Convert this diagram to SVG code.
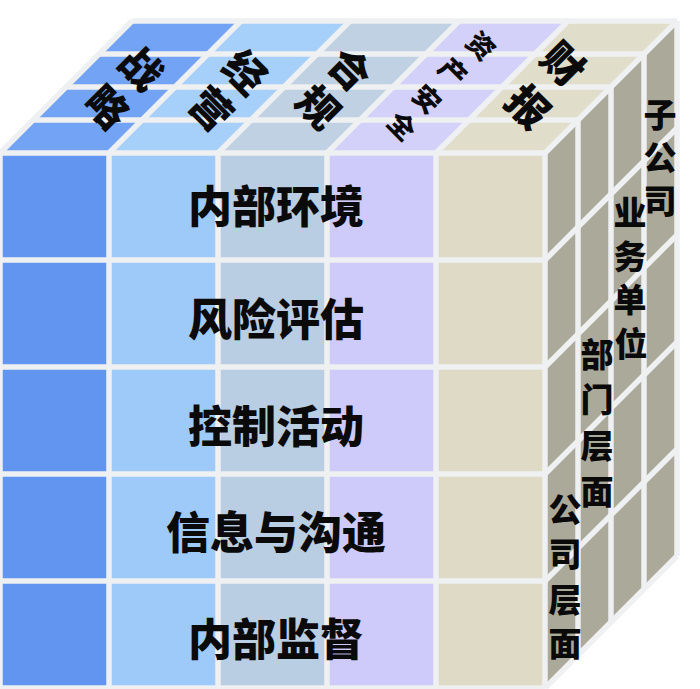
<svg xmlns="http://www.w3.org/2000/svg" width="700" height="689" viewBox="0 0 700 689">
<style>
.ln{stroke:#eef0f1;stroke-width:5.5;fill:none;stroke-linecap:butt}
.t{font-family:"Noto Sans CJK SC","Noto Sans",sans-serif;font-weight:900;fill:#0a0a0a;text-anchor:middle;dominant-baseline:central}
.f{font-size:44px}
.r{font-size:33px}
.tp{font-size:41px}
.ts{font-size:27px}
</style>
<rect width="700" height="689" fill="#ffffff"/>
<g id="front-face">
<rect x="0" y="153" width="109" height="535" fill="#6195f0"/>
<rect x="109" y="153" width="109" height="535" fill="#9ecafa"/>
<rect x="218" y="153" width="109" height="535" fill="#b9cde3"/>
<rect x="327" y="153" width="109" height="535" fill="#cecbfa"/>
<rect x="436" y="153" width="109" height="535" fill="#dedac6"/>
</g>
<g id="top-face">
<polygon points="0,153 109,153 241,21 132,21" fill="#72a3f5"/>
<polygon points="109,153 218,153 350,21 241,21" fill="#a6cffa"/>
<polygon points="218,153 327,153 459,21 350,21" fill="#bfd1e3"/>
<polygon points="327,153 436,153 568,21 459,21" fill="#d3d1fa"/>
<polygon points="436,153 545,153 677,21 568,21" fill="#e0ddcb"/>
</g>
<g id="right-face">
<polygon points="545,153 677,21 677,556 545,688" fill="#aba99a"/>
</g>
<g id="grid-lines">
<path class="ln" d="M0,153V688M109,153V688M218,153V688M327,153V688M436,153V688M545,153V688"/>
<path class="ln" d="M0,153H545M0,260H545M0,367H545M0,474H545M0,581H545M0,688H545"/>
<path class="ln" d="M0,153L132,21M109,153L241,21M218,153L350,21M327,153L459,21M436,153L568,21M545,153L677,21"/>
<path class="ln" d="M33,120H578M66,87H611M99,54H644M132,21H677"/>
<path class="ln" d="M578,120V655M611,87V622M644,54V589M677,21V556"/>
<path class="ln" d="M545,260L677,128M545,367L677,235M545,474L677,342M545,581L677,449M545,688L677,556"/>
</g>
<g id="front-labels">
<text class="t f" x="276" y="204">内部环境</text>
<text class="t f" x="276" y="317">风险评估</text>
<text class="t f" x="276" y="424">控制活动</text>
<text class="t f" x="276" y="530">信息与沟通</text>
<text class="t f" x="276" y="637">内部监督</text>
</g>
<g id="top-labels">
<text class="t tp" x="143" y="66" transform="rotate(45 143 66)">战</text>
<text class="t tp" x="109" y="105" transform="rotate(45 109 105)">略</text>
<text class="t tp" x="247" y="70" transform="rotate(45 247 70)">经</text>
<text class="t tp" x="213" y="107" transform="rotate(45 213 107)">营</text>
<text class="t tp" x="352" y="67" transform="rotate(45 352 67)">合</text>
<text class="t tp" x="320" y="105" transform="rotate(45 320 105)">规</text>
<text class="t ts" x="482" y="45" transform="rotate(45 482 45)">资</text>
<text class="t ts" x="454" y="71" transform="rotate(45 454 71)">产</text>
<text class="t ts" x="428" y="98" transform="rotate(45 428 98)">安</text>
<text class="t ts" x="403" y="125" transform="rotate(45 403 125)">全</text>
<text class="t tp" x="565" y="62" transform="rotate(45 565 62)">财</text>
<text class="t tp" x="530" y="105" transform="rotate(45 530 105)">报</text>
</g>
<g id="right-labels">
<text class="t r"><tspan x="660" y="113">子</tspan><tspan x="660" y="156">公</tspan><tspan x="660" y="199">司</tspan></text>
<text class="t r"><tspan x="630" y="211">业</tspan><tspan x="630" y="255">务</tspan><tspan x="630" y="298">单</tspan><tspan x="631" y="342">位</tspan></text>
<text class="t r"><tspan x="597" y="353">部</tspan><tspan x="597" y="398">门</tspan><tspan x="597" y="444">层</tspan><tspan x="597" y="490">面</tspan></text>
<text class="t r"><tspan x="565" y="508">公</tspan><tspan x="565" y="552">司</tspan><tspan x="565" y="598">层</tspan><tspan x="565" y="642">面</tspan></text>
</g>
</svg>
